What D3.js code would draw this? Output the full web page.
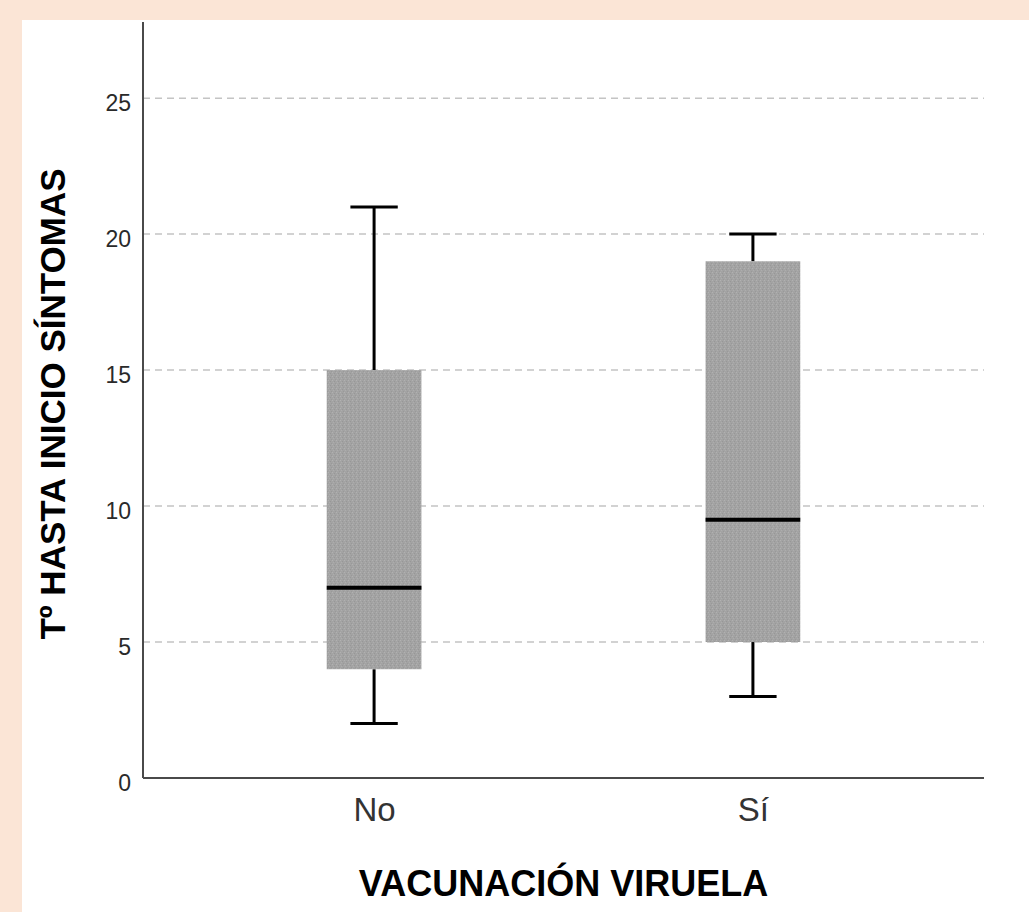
<!DOCTYPE html>
<html>
<head>
<meta charset="utf-8">
<script src="https://cdn.jsdelivr.net/npm/d3@7"></script>
<style>
  html, body { margin: 0; padding: 0; background: #fbe5d6; }
  svg { display: block; }
</style>
</head>
<body>
<div id="chart"></div>
<script>
// data
var categories = ["No", "Sí"];
var mins    = [2, 3];
var q1s     = [4, 5];
var medians = [7, 9.5];
var q3s     = [15, 19];
var maxs    = [21, 20];
var yTicks  = [0, 5, 10, 15, 20, 25];

var width = 1029, height = 912;
var plotL = 143, plotR = 984, plotT = 22, plotB = 778;

var svg = d3.select("#chart").append("svg")
    .attr("width", width)
    .attr("height", height);

// white panel, peach shows on the left and top only
svg.append("rect")
    .attr("x", 22).attr("y", 20)
    .attr("width", width - 22).attr("height", height - 20)
    .attr("fill", "#ffffff");

// stippled grey like the SPSS box fill
var defs = svg.append("defs");
var pat = defs.append("pattern")
    .attr("id", "stipple")
    .attr("patternUnits", "userSpaceOnUse")
    .attr("width", 4).attr("height", 4);
pat.append("rect").attr("width", 4).attr("height", 4).attr("fill", "#a3a3a3");
[[0, 0, "#b1b1b1"], [2, 1, "#979797"], [1, 2, "#adadad"], [3, 3, "#999999"]].forEach(function (p) {
    pat.append("rect").attr("x", p[0]).attr("y", p[1]).attr("width", 1).attr("height", 1).attr("fill", p[2]);
});

var x = d3.scalePoint().domain(categories).range([plotL, plotR]).padding(0.61);
var y = d3.scaleLinear().domain([0, 27.8]).range([plotB, plotT]);

var boxW = x.step() * 0.25;

/* --------- GRID ---------*/
svg.append("g").selectAll("line.grid")
    .data(yTicks.filter(function (d) { return d > 0; }))
    .enter().append("line")
    .attr("class", "grid")
    .attr("x1", plotL).attr("x2", plotR)
    .attr("y1", function (d) { return y(d); })
    .attr("y2", function (d) { return y(d); })
    .attr("stroke", "#c4c4c4")
    .attr("stroke-width", 1.5)
    .attr("stroke-dasharray", "7,5");

/* --------- BOXES ---------*/
var boxes = categories.map(function (c, i) {
    return { cat: c, min: mins[i], q1: q1s[i], med: medians[i], q3: q3s[i], max: maxs[i] };
});

var g = svg.append("g").selectAll("g.box").data(boxes).enter()
    .append("g").attr("class", "box");

// whiskers
g.append("line")
    .attr("x1", function (d) { return x(d.cat); })
    .attr("x2", function (d) { return x(d.cat); })
    .attr("y1", function (d) { return y(d.q3); })
    .attr("y2", function (d) { return y(d.max); })
    .attr("stroke", "#000").attr("stroke-width", 3);
g.append("line")
    .attr("x1", function (d) { return x(d.cat); })
    .attr("x2", function (d) { return x(d.cat); })
    .attr("y1", function (d) { return y(d.q1); })
    .attr("y2", function (d) { return y(d.min); })
    .attr("stroke", "#000").attr("stroke-width", 3);
// caps
["min", "max"].forEach(function (k) {
    g.append("line")
        .attr("x1", function (d) { return x(d.cat) - boxW / 4; })
        .attr("x2", function (d) { return x(d.cat) + boxW / 4; })
        .attr("y1", function (d) { return y(d[k]); })
        .attr("y2", function (d) { return y(d[k]); })
        .attr("stroke", "#000").attr("stroke-width", 3);
});
// box
g.append("rect")
    .attr("x", function (d) { return x(d.cat) - boxW / 2; })
    .attr("width", boxW)
    .attr("y", function (d) { return y(d.q3); })
    .attr("height", function (d) { return y(d.q1) - y(d.q3); })
    .attr("fill", "url(#stipple)");
// median
g.append("line")
    .attr("x1", function (d) { return x(d.cat) - boxW / 2; })
    .attr("x2", function (d) { return x(d.cat) + boxW / 2; })
    .attr("y1", function (d) { return y(d.med); })
    .attr("y2", function (d) { return y(d.med); })
    .attr("stroke", "#000").attr("stroke-width", 4);

/* --------- AXES ---------*/
var yAxis = svg.append("g")
    .attr("transform", "translate(" + plotL + ",0)")
    .call(d3.axisLeft(y).tickValues(yTicks).tickSize(0).tickPadding(12));
yAxis.select(".domain").attr("stroke", "#4a4a4a").attr("stroke-width", 2)
    .attr("d", "M0," + plotB + "V" + plotT);
yAxis.selectAll("text")
    .attr("font-family", "Liberation Sans, Arial, sans-serif")
    .attr("font-size", 23)
    .attr("fill", "#2a2a2a")
    .attr("dy", "0.55em");

var xAxis = svg.append("g")
    .attr("transform", "translate(0," + plotB + ")")
    .call(d3.axisBottom(x).tickSize(0).tickPadding(20));
xAxis.select(".domain").attr("stroke", "#4a4a4a").attr("stroke-width", 2)
    .attr("d", "M" + plotL + ",0H" + plotR);
xAxis.selectAll("text")
    .attr("font-family", "Liberation Sans, Arial, sans-serif")
    .attr("font-size", 33)
    .attr("fill", "#333");

/* --------- TITLES ---------*/
svg.append("text")
    .attr("x", (plotL + plotR) / 2)
    .attr("y", 896)
    .attr("text-anchor", "middle")
    .attr("font-family", "Liberation Sans, Arial, sans-serif")
    .attr("font-weight", "bold")
    .attr("font-size", 36)
    .attr("fill", "#000")
    .text("VACUNACIÓN VIRUELA");

svg.append("text")
    .attr("transform", "translate(65,404) rotate(-90)")
    .attr("text-anchor", "middle")
    .attr("font-family", "Liberation Sans, Arial, sans-serif")
    .attr("font-weight", "bold")
    .attr("font-size", 35)
    .attr("fill", "#000")
    .text("Tº HASTA INICIO SÍNTOMAS");
</script>
</body>
</html>
